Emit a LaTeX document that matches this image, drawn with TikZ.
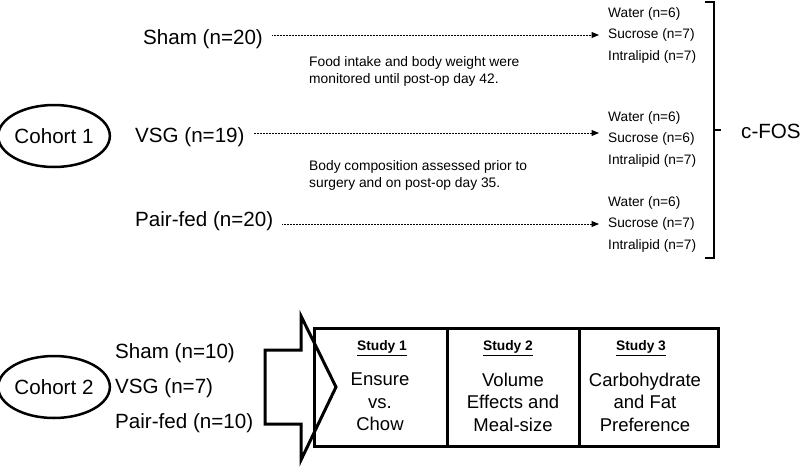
\documentclass[tikz,border=0pt]{standalone}
\usepackage{fontspec}
\setmainfont{Liberation Sans}
\usetikzlibrary{shapes.geometric, arrows.meta, positioning}

\tikzset{
  cohort/.style={ellipse, draw, line width=2.5pt, minimum width=104pt, minimum height=62pt, inner sep=0pt, font=\fontsize{20.6}{24}\selectfont},
  group/.style={anchor=west, inner sep=0pt, font=\fontsize{20.6}{24}\selectfont},
  sub/.style={anchor=west, inner sep=0pt, font=\fontsize{13.7}{16}\selectfont},
  note/.style={anchor=west, inner sep=0pt, align=left, font=\fontsize{13.8}{17}\selectfont},
  flow/.style={line width=1pt, dash pattern=on 0.8pt off 0.7pt, -{Triangle[length=7.5pt,width=6pt]}, shorten <=9pt, shorten >=9pt},
  cell/.style={draw, line width=3pt, minimum height=118pt, inner sep=0pt},
  studyhead/.style={inner sep=0pt, font=\fontsize{13.8}{16}\selectfont\bfseries},
  studybody/.style={inner sep=0pt, align=center, font=\fontsize{18.5}{22.5}\selectfont}
}

\begin{document}
\begin{tikzpicture}[x=1pt, y=-1pt]
\useasboundingbox (0,0) rectangle (800,466);

% Cohort 1
\node[cohort] (c1) at (54,136) {Cohort 1};
\node[group] (sham1) at (143,39) {Sham (n=20)};
\node[group] (vsg1) at (135,137) {VSG (n=19)};
\node[group] (pair1) at (135,221) {Pair-fed (n=20)};

% drink groups
\foreach \g/\y/\s in {1/35/7, 2/139/6, 3/224/7} {
  \node[sub] (water\g) at (608,\y-21) {Water (n=6)};
  \node[sub] (suc\g) at (608,\y) {Sucrose (n=\s)};
  \node[sub] (intra\g) at (608,\y+21.5) {Intralipid (n=7)};
}

% Arrows to drink groups
\coordinate (v2) at ([yshift=6pt]suc2.west);
\draw[flow] (sham1.east |- suc1.west) -- (suc1.west);
\draw[flow] (vsg1.east |- v2) -- (v2);
\draw[flow] (pair1.east |- suc3.west) -- (suc3.west);

\node[note] (note1) at (309,71.5) {Food intake and body weight were\\monitored until post-op day 42.};
\node[note] (note2) at (309,175.5) {Body composition assessed prior to\\surgery and on post-op day 35.};

% c-FOS bracket
\draw[line width=1.3pt] (705,2) -- (714,2) -- (714,258) -- (705,258);
\draw[line width=1.3pt] (714,130) -- (721,130);
\node[group] (cfos) at (741,131) {c-FOS};

% Cohort 2
\node[cohort] (c2) at (54,387) {Cohort 2};
\node[group] (sham2) at (115,353) {Sham (n=10)};
\node[group] (vsg2) at (115,388) {VSG (n=7)};
\node[group] (pair2) at (115,423) {Pair-fed (n=10)};

% Big arrow
\draw[line width=3pt] (265,350) -- (301,350) -- (301,316) -- (336,387) -- (301,460) -- (301,424) -- (265,424) -- cycle;

% Studies
\node[cell, minimum width=133pt] (study1) at (380.5,387) {};
\node[cell, minimum width=132pt] (study2) at (513,387) {};
\node[cell, minimum width=139pt] (study3) at (648.5,387) {};
\node[studyhead] (head1) at (382,348) {\underline{Study 1}};
\node[studyhead] (head2) at (508,348) {\underline{Study 2}};
\node[studyhead] (head3) at (641,348) {\underline{Study 3}};
\node[studybody] (body1) at (380,402) {Ensure\\vs.\\Chow};
\node[studybody] (body2) at (513,402) {Volume\\Effects and\\Meal-size};
\node[studybody] (body3) at (645,402) {Carbohydrate\\and Fat\\Preference};
\end{tikzpicture}
\end{document}
